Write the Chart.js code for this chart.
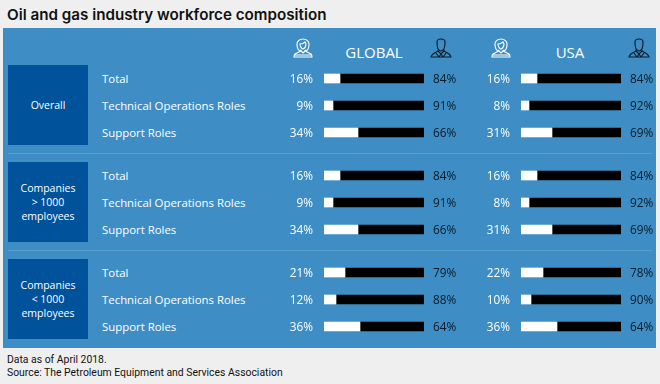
<!DOCTYPE html>
<html>
<head>
  <title>Oil and gas industry workforce composition</title>
  <script src="https://cdn.jsdelivr.net/npm/chart.js"></script>
  <style>
    html, body { margin: 0; padding: 0; }
    body { width: 660px; height: 384px; background: #efefef; position: relative; overflow: hidden; font-family: 'Open Sans', Arial, sans-serif; }
    #title { position: absolute; left: 7px; top: 5px; font: 600 15.2px Inter, Arial, sans-serif; color: #111; white-space: nowrap; }
    #panel { position: absolute; left: 3px; top: 28px; width: 653px; height: 320px; background: #3e8ec5; }
    .sep { position: absolute; left: 8px; width: 644px; height: 1px; background: #5a9fcf; }
    .group { position: absolute; left: 8px; width: 80px; height: 80px; background: #00529b; color: #fff; font-size: 10.5px; line-height: 14px; display: flex; align-items: center; justify-content: center; text-align: center; }
    .role { position: absolute; left: 102px; color: #fff; font-size: 11.4px; line-height: 16px; white-space: nowrap; }
    .region { position: absolute; top: 41px; color: #fff; font-size: 15px; line-height: 22px; transform: translateX(-50%); }
    canvas { position: absolute; }
    svg.icon { position: absolute; top: 38px; width: 22px; height: 20px; fill: none; stroke-width: 1.1; }
    #notes { position: absolute; left: 7px; top: 354px; font: 10.4px/12.5px Roboto, Arial, sans-serif; color: #111; white-space: nowrap; }
  </style>
</head>
<body>
  <div id="title">Oil and gas industry workforce composition</div>
  <div id="panel"></div>
  <div class="region" style="left:374px">GLOBAL</div>
  <div class="region" style="left:570px">USA</div>
  <svg width="0" height="0" style="position:absolute">
    <symbol id="woman" viewBox="0 0 22 20">
      <path d="M6 11C3 4 7 1 11 1s8 3 5 10c-1 2-2 2-3 1M6 11c1 2 2 2 3 1M8 6c2 0 4-1 5-2 1 1 1 2 1 3-1 3-2 4-3 4S8 9 8 6zM9 12v1l-6 3c-1 1-1 2-1 3h18c0-1 0-2-1-3l-6-3v-1M9 13l2 2 2-2M2 17h18"/>
    </symbol>
    <symbol id="man" viewBox="0 0 22 20">
      <path d="M7 4c0-2 2-3 4-3s4 1 4 3c0 3 0 5-1 7-1 1-2 2-3 2s-2-1-3-2C7 9 7 7 7 4zM8 12v1l-5 3c-1 1-2 2-2 3h20c0-1-1-2-2-3l-5-3v-1M8 13l3 3 3-3M11 16l-2 3M11 16l2 3M6 15l3 4M16 15l-3 4"/>
    </symbol>
  </svg>
  <svg class="icon" style="left:292px;stroke:#fff"><use href="#woman"/></svg>
  <svg class="icon" style="left:430px;stroke:#0b1a26"><use href="#man"/></svg>
  <svg class="icon" style="left:490px;stroke:#fff"><use href="#woman"/></svg>
  <svg class="icon" style="left:628px;stroke:#0b1a26"><use href="#man"/></svg>
  <div id="notes">Data as of April 2018.<br>Source: The Petroleum Equipment and Services Association</div>

  <script>
    const groups = ["Overall", "Companies<br>&gt; 1000<br>employees", "Companies<br>&lt; 1000<br>employees"];
    const roles = ["Total", "Technical Operations Roles", "Support Roles"];
    const globalWomen = [16, 9, 34, 16, 9, 34, 21, 12, 36];
    const globalMen = [84, 91, 66, 84, 91, 66, 79, 88, 64];
    const usaWomen = [16, 8, 31, 16, 8, 31, 22, 10, 36];
    const usaMen = [84, 92, 69, 84, 92, 69, 78, 90, 64];

    const groupTops = [65, 162, 259];

    // percent values left and right of each bar
    const pctLabels = {
      id: "pctLabels",
      afterDatasetsDraw(chart) {
        const ctx = chart.ctx;
        const x = chart.scales.x;
        const y = chart.scales.y;
        ctx.save();
        ctx.font = "11.8px 'Open Sans'";
        ctx.textBaseline = "middle";
        chart.data.labels.forEach((label, i) => {
          const rowY = y.getPixelForValue(i) + 1;
          ctx.textAlign = "right";
          ctx.fillStyle = "#fff";
          ctx.fillText(chart.data.datasets[0].data[i] + "%", x.getPixelForValue(0) - 11, rowY);
          ctx.textAlign = "left";
          ctx.fillStyle = "#0b1a26";
          ctx.fillText(chart.data.datasets[1].data[i] + "%", x.getPixelForValue(100) + 9, rowY);
        });
        ctx.restore();
      }
    };

    function addChart(left, top, women, men) {
      const canvas = document.createElement("canvas");
      canvas.width = 190;
      canvas.height = 81;
      canvas.style.left = left + "px";
      canvas.style.top = top + "px";
      document.body.appendChild(canvas);
      new Chart(canvas.getContext("2d"), {
        type: "bar",
        plugins: [pctLabels],
        data: {
          labels: roles,
          datasets: [
            { label: "Women", data: women, backgroundColor: "#fff", barThickness: 9 },
            { label: "Men", data: men, backgroundColor: "#000", barThickness: 9 }
          ]
        },
        options: {
          indexAxis: "y",
          responsive: false,
          animation: false,
          layout: { padding: { left: 44, right: 46, top: 0, bottom: 0 } },
          plugins: { legend: { display: false }, tooltip: { enabled: false } },
          scales: {
            x: { display: false, stacked: true, min: 0, max: 100 },
            y: { display: false, stacked: true }
          }
        }
      });
    }

    groups.forEach((name, g) => {
      const top = groupTops[g];
      const box = document.createElement("div");
      box.className = "group";
      box.style.top = top + "px";
      box.innerHTML = name;
      document.body.appendChild(box);

      roles.forEach((role, r) => {
        const el = document.createElement("div");
        el.className = "role";
        el.style.top = (top + 5.5 + r * 27) + "px";
        el.textContent = role;
        document.body.appendChild(el);
      });

      if (g > 0) {
        const sep = document.createElement("div");
        sep.className = "sep";
        sep.style.top = (top - 9) + "px";
        document.body.appendChild(sep);
      }

      const a = g * 3, b = a + 3;
      addChart(280, top, globalWomen.slice(a, b), globalMen.slice(a, b));
      addChart(477, top, usaWomen.slice(a, b), usaMen.slice(a, b));
    });
  </script>
</body>
</html>
